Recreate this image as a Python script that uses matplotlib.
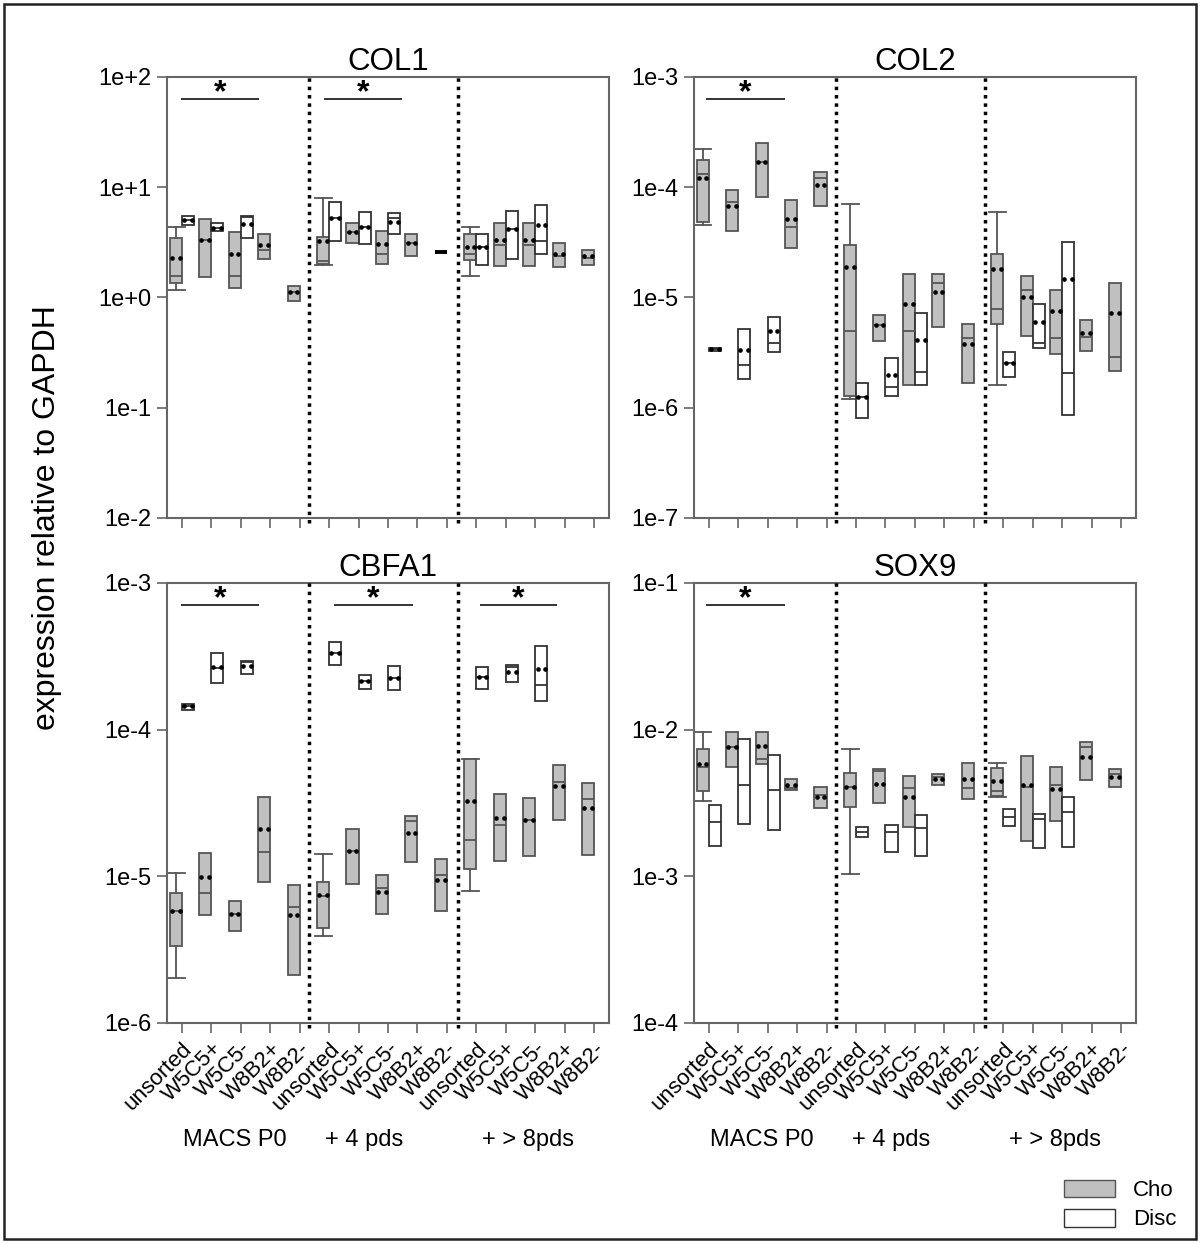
import matplotlib
matplotlib.use("Agg")
import matplotlib.pyplot as plt
from matplotlib.patches import Rectangle, Patch

plt.rcParams["font.family"] = ["Liberation Sans", "DejaVu Sans"]

# ─────────────────────────────────────────────
# DATA  (box low, box high, median, mean) per category, None = no box
# ─────────────────────────────────────────────
CATEGORIES = ["unsorted", "W5C5+", "W5C5-", "W8B2+", "W8B2-"] * 3
GROUPS = ["MACS P0", "+ 4 pds", "+ > 8pds"]

COL1_CHO = [
    (1.34, 3.43, 1.58, 2.3), (1.52, 5.1, 3.3, 3.3), (1.21, 3.9, 1.58, 2.5),
    (2.21, 3.73, 2.72, 2.96), (0.92, 1.28, 1.11, 1.11),
    (2.03, 3.57, 2.12, 3.22), (3.09, 4.7, 3.9, 3.9), (2.03, 3.97, 2.5, 3.03),
    (2.4, 3.8, 3.09, 3.09), (2.56, 2.56, 2.56, None),
    (2.17, 3.8, 2.46, 2.84), (1.91, 4.7, 2.96, 3.3), (1.91, 4.7, 2.96, 3.3),
    (1.87, 3.15, 2.36, 2.5), (1.99, 2.72, 2.26, 2.36),
]
COL1_DISC = [
    (4.5, 5.5, 5.0, 5.0), (3.97, 4.7, 4.3, 4.3), (3.43, 5.5, 5.4, 4.6), None, None,
    (3.22, 7.27, 5.3, 5.3), (3.03, 5.9, 4.4, 4.4), (3.8, 5.78, 5.3, 4.79), None, None,
    (1.99, 3.73, 2.84, 2.84), (2.21, 6.03, 4.14, 4.14), (2.46, 6.83, 3.22, 4.5), None, None,
]
COL1_WHISK = {0: (1.18, 4.4), 5: (1.95, 7.9), 10: (1.58, 4.4)}

COL2_CHO = [
    (4.79e-5, 1.75e-4, 1.31e-4, 1.22e-4), (3.97e-5, 9.5e-5, 7.4e-5, 6.7e-5),
    (8.2e-5, 2.5e-4, 1.68e-4, 1.68e-4), (2.78e-5, 7.7e-5, 4.4e-5, 5.2e-5),
    (6.7e-5, 1.36e-4, 1.2e-4, 1.04e-4),
    (1.29e-6, 2.97e-5, 5.0e-6, 1.87e-5), (4.0e-6, 7.0e-6, 5.57e-6, 5.57e-6),
    (1.59e-6, 1.62e-5, 4.92e-6, 8.8e-6), (5.34e-6, 1.62e-5, 1.34e-5, 1.11e-5),
    (1.69e-6, 5.69e-6, 4.25e-6, 3.75e-6),
    (5.8e-6, 2.5e-5, 7.8e-6, 1.8e-5), (4.5e-6, 1.58e-5, 1.16e-5, 1.02e-5),
    (3.04e-6, 1.16e-5, 4.25e-6, 7.46e-6), (3.24e-6, 6.18e-6, 4.34e-6, 4.73e-6),
    (2.13e-6, 1.34e-5, 2.86e-6, 7.16e-6),
]
COL2_DISC = [
    (3.3e-6, 3.5e-6, 3.4e-6, 3.4e-6), (1.84e-6, 5.13e-6, 2.42e-6, 3.37e-6),
    (3.2e-6, 6.7e-6, 3.83e-6, 4.92e-6), None, None,
    (8.0e-7, 1.69e-6, 1.26e-6, 1.26e-6), (1.29e-6, 2.8e-6, 1.53e-6, 1.96e-6),
    (1.59e-6, 7.16e-6, 2.09e-6, 4.07e-6), None, None,
    (1.88e-6, 3.17e-6, 2.52e-6, 2.52e-6), (3.5e-6, 8.8e-6, 3.83e-6, 5.93e-6),
    (8.5e-7, 3.16e-5, 2.05e-6, 1.46e-5), None, None,
]
COL2_WHISK = {0: (4.5e-5, 2.24e-4), 5: (1.21e-6, 7.1e-5), 10: (1.59e-6, 5.9e-5)}

CBFA1_CHO = [
    (3.33e-6, 7.66e-6, 5.77e-6, 5.77e-6), (5.42e-6, 1.44e-5, 7.66e-6, 9.84e-6),
    (4.22e-6, 6.76e-6, 5.5e-6, 5.5e-6), (9.1e-6, 3.46e-5, 1.46e-5, 2.09e-5),
    (2.11e-6, 8.7e-6, 6.15e-6, 5.42e-6),
    (4.42e-6, 9.1e-6, 7.3e-6, 7.5e-6), (8.8e-6, 2.09e-5, 1.48e-5, 1.48e-5),
    (5.5e-6, 1.02e-5, 8.3e-6, 7.78e-6), (1.26e-5, 2.56e-5, 2.37e-5, 1.96e-5),
    (5.77e-6, 1.31e-5, 1.02e-5, 9.4e-6),
    (1.13e-5, 6.28e-5, 1.76e-5, 3.24e-5), (1.28e-5, 3.62e-5, 2.23e-5, 2.48e-5),
    (1.37e-5, 3.4e-5, 2.41e-5, 2.41e-5), (2.41e-5, 5.72e-5, 4.37e-5, 4.11e-5),
    (1.39e-5, 4.3e-5, 3.35e-5, 2.91e-5),
]
CBFA1_DISC = [
    (1.37e-4, 1.49e-4, 1.44e-4, 1.44e-4), (2.07e-4, 3.31e-4, 2.62e-4, 2.66e-4),
    (2.38e-4, 2.96e-4, 2.88e-4, 2.7e-4), None, None,
    (2.74e-4, 3.94e-4, 3.31e-4, 3.31e-4), (1.88e-4, 2.34e-4, 2.13e-4, 2.13e-4),
    (1.85e-4, 2.7e-4, 2.24e-4, 2.24e-4), None, None,
    (1.88e-4, 2.66e-4, 2.27e-4, 2.27e-4), (2.1e-4, 2.74e-4, 2.66e-4, 2.46e-4),
    (1.58e-4, 3.7e-4, 2.0e-4, 2.58e-4), None, None,
]
CBFA1_WHISK = {0: (2.02e-6, 1.05e-5), 5: (3.9e-6, 1.41e-5), 10: (7.9e-6, 6.28e-5)}

SOX9_CHO = [
    (3.8e-3, 7.35e-3, 5.54e-3, 5.8e-3), (5.54e-3, 9.6e-3, 7.57e-3, 7.57e-3),
    (5.8e-3, 9.6e-3, 6.28e-3, 7.7e-3), (3.86e-3, 4.58e-3, 3.98e-3, 4.17e-3),
    (2.91e-3, 4.05e-3, 3.56e-3, 3.45e-3),
    (2.95e-3, 5.04e-3, 4.05e-3, 4.05e-3), (3.15e-3, 5.36e-3, 5.2e-3, 4.24e-3),
    (2.16e-3, 4.81e-3, 3.98e-3, 3.45e-3), (4.17e-3, 4.95e-3, 4.72e-3, 4.58e-3),
    (3.35e-3, 5.89e-3, 3.98e-3, 4.58e-3),
    (3.51e-3, 5.44e-3, 3.8e-3, 4.44e-3), (1.73e-3, 6.58e-3, 4.05e-3, 4.17e-3),
    (2.37e-3, 5.54e-3, 4.17e-3, 3.92e-3), (4.51e-3, 8.2e-3, 7.57e-3, 6.48e-3),
    (4.05e-3, 5.36e-3, 4.95e-3, 4.72e-3),
]
SOX9_DISC = [
    (1.6e-3, 3.05e-3, 2.33e-3, None), (2.26e-3, 8.6e-3, 4.17e-3, None),
    (2.06e-3, 6.68e-3, 3.86e-3, None), None, None,
    (1.85e-3, 2.16e-3, 2.0e-3, None), (1.46e-3, 2.23e-3, 2.0e-3, None),
    (1.37e-3, 2.61e-3, 2.12e-3, None), None, None,
    (2.19e-3, 2.86e-3, 2.52e-3, None), (1.55e-3, 2.65e-3, 2.45e-3, None),
    (1.58e-3, 3.45e-3, 2.73e-3, None), None, None,
]
SOX9_WHISK = {0: (3.24e-3, 9.6e-3), 5: (1.03e-3, 7.35e-3), 10: (3.45e-3, 5.89e-3)}

COL1_TICKS = ["1e-2", "1e-1", "1e+0", "1e+1", "1e+2"]
COL2_TICKS = ["1e-7", "1e-6", "1e-5", "1e-4", "1e-3"]
CBFA1_TICKS = ["1e-6", "1e-5", "1e-4", "1e-3"]
SOX9_TICKS = ["1e-4", "1e-3", "1e-2", "1e-1"]

COL1_SIG = [(0.0, 2.6), (4.85, 7.45)]
COL2_SIG = [(-0.05, 2.55)]
CBFA1_SIG = [(0.0, 2.6), (5.2, 7.8), (10.15, 12.7)]
SOX9_SIG = [(-0.05, 2.55)]

PANELS = [
    ("COL1", COL1_CHO, COL1_DISC, COL1_WHISK, COL1_TICKS, COL1_SIG, [0.1392, 0.5833, 0.3683, 0.3548], False),
    ("COL2", COL2_CHO, COL2_DISC, COL2_WHISK, COL2_TICKS, COL2_SIG, [0.5783, 0.5833, 0.3683, 0.3548], False),
    ("CBFA1", CBFA1_CHO, CBFA1_DISC, CBFA1_WHISK, CBFA1_TICKS, CBFA1_SIG, [0.1392, 0.1770, 0.3683, 0.3540], True),
    ("SOX9", SOX9_CHO, SOX9_DISC, SOX9_WHISK, SOX9_TICKS, SOX9_SIG, [0.5783, 0.1770, 0.3683, 0.3540], True),
]

# ─────────────────────────────────────────────
# STYLE
# ─────────────────────────────────────────────
CHO_FACE, CHO_EDGE = "#c0c0c0", "#555555"
DISC_FACE, DISC_EDGE = "white", "#333333"
SPINE = "#666666"
BOX_W = 0.41
SEPARATORS = [4.33, 9.37]
GROUP_X = [1.8, 6.2, 11.75]


def draw_box(ax, x0, stats, face, edge):
    lo, hi, med, mean = stats
    ax.add_patch(Rectangle((x0, lo), BOX_W, hi - lo, facecolor=face,
                           edgecolor=edge, linewidth=1.3, zorder=3))
    flat = lo == hi
    ax.plot([x0, x0 + BOX_W], [med, med], color="black" if flat else edge,
            lw=2.8 if flat else 1.3, zorder=4, solid_capstyle="butt")
    if mean is not None:
        cx = x0 + BOX_W / 2
        ax.plot([cx - 0.13, cx + 0.13], [mean, mean], linestyle="none",
                marker="o", ms=2.3, color="black", zorder=5)


fig = plt.figure(figsize=(12, 12.43), dpi=100)

for title, cho, disc, whisk, yt, sig, rect, bottom in PANELS:
    ax = fig.add_axes(rect)
    ax.set_yscale("log")
    lo_exp = int(yt[0].split("e")[1])
    hi_exp = int(yt[-1].split("e")[1])
    ax.set_ylim(10.0 ** lo_exp, 10.0 ** hi_exp)
    ax.set_xlim(-0.5, 14.5)

    for i, (c, d) in enumerate(zip(cho, disc)):
        if i in whisk:
            wlo, whi = whisk[i]
            cx = i - BOX_W / 2
            ax.plot([cx, cx], [wlo, c[0]], color=CHO_EDGE, lw=1.3, zorder=2)
            ax.plot([cx, cx], [c[1], whi], color=CHO_EDGE, lw=1.3, zorder=2)
            for w in (wlo, whi):
                ax.plot([cx - 0.27, cx + 0.3], [w, w], color=CHO_EDGE,
                        lw=1.3, zorder=2)
        if c is not None:
            draw_box(ax, i - BOX_W, c, CHO_FACE, CHO_EDGE)
        if d is not None:
            draw_box(ax, i, d, DISC_FACE, DISC_EDGE)

    trans = ax.get_xaxis_transform()
    # dotted group separators
    for sx in SEPARATORS:
        ax.plot([sx, sx], [-0.012, 1.005], color="black", lw=2.5,
                linestyle=(0, (1, 1.4)), transform=trans,
                clip_on=False, zorder=6)

    # significance bars
    for s0, s1 in sig:
        ax.plot([s0, s1], [0.95, 0.95], color="#333333", lw=1.4, transform=trans)
        ax.text((s0 + s1) / 2, 0.963, "*", transform=trans, ha="center",
                va="center", fontsize=23, fontweight="bold")

    ax.set_yticks([10.0 ** e for e in range(lo_exp, hi_exp + 1)])
    ax.set_yticklabels(yt, fontsize=17)
    ax.minorticks_off()
    ax.set_xticks(range(15))
    if bottom:
        ax.set_xticklabels(CATEGORIES, rotation=45, ha="right",
                           rotation_mode="anchor", fontsize=16)
        for gx, g in zip(GROUP_X, GROUPS):
            ax.text(gx, -0.267, g, transform=trans, ha="center", va="center",
                    fontsize=17)
    else:
        ax.set_xticklabels([])
    ax.tick_params(direction="out", length=7, width=1.2, color=SPINE, pad=4)
    for sp in ax.spines.values():
        sp.set_color(SPINE)
        sp.set_linewidth(1.5)
    ax.set_title(title, fontsize=22.5, pad=5)

fig.text(0.039, 0.584, "expression relative to GAPDH", rotation=90,
         ha="center", va="center", fontsize=23)

handles = [Patch(facecolor=CHO_FACE, edgecolor=CHO_EDGE, label="Cho"),
           Patch(facecolor=DISC_FACE, edgecolor=DISC_EDGE, label="Disc")]
fig.legend(handles=handles, loc="lower right", bbox_to_anchor=(0.997, -0.006),
           frameon=False, fontsize=16, handlelength=2.3, handleheight=0.85,
           handletextpad=0.8, labelspacing=0.35)

fig.patches.append(Rectangle((0.003, 0.003), 0.994, 0.994,
                             transform=fig.transFigure, fill=False,
                             edgecolor="#222222", lw=1.8))

fig.savefig("out.png", dpi=100, facecolor="white")
